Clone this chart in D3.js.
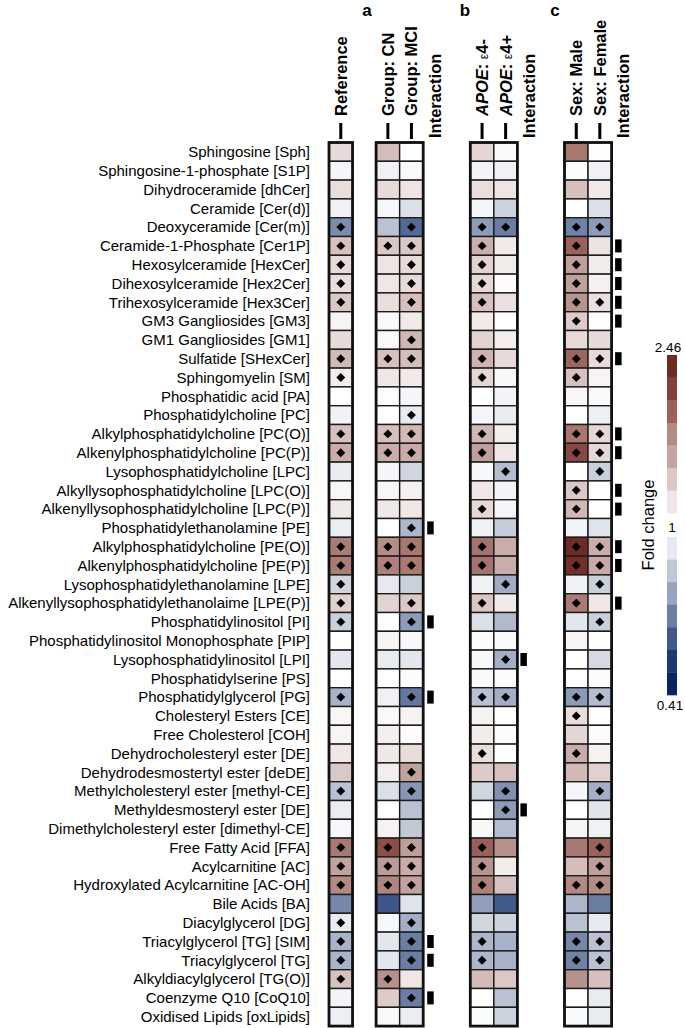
<!DOCTYPE html>
<html>
<head>
<meta charset="utf-8">
<script src="https://cdn.jsdelivr.net/npm/d3@7"></script>
<style>
  body { margin: 0; background: #fff; }
  text { font-family: "Liberation Sans", Arial, sans-serif; fill: #000; }
</style>
</head>
<body>
<div id="chart"></div>
<script>
// lipid classes, top to bottom
const lipids = [
  "Sphingosine [Sph]", "Sphingosine-1-phosphate [S1P]", "Dihydroceramide [dhCer]",
  "Ceramide [Cer(d)]", "Deoxyceramide [Cer(m)]", "Ceramide-1-Phosphate [Cer1P]",
  "Hexosylceramide [HexCer]", "Dihexosylceramide [Hex2Cer]", "Trihexosylceramide [Hex3Cer]",
  "GM3 Gangliosides [GM3]", "GM1 Gangliosides [GM1]", "Sulfatide [SHexCer]",
  "Sphingomyelin [SM]", "Phosphatidic acid [PA]", "Phosphatidylcholine [PC]",
  "Alkylphosphatidylcholine [PC(O)]", "Alkenylphosphatidylcholine [PC(P)]",
  "Lysophosphatidylcholine [LPC]", "Alkyllysophosphatidylcholine [LPC(O)]",
  "Alkenyllysophosphatidylcholine [LPC(P)]", "Phosphatidylethanolamine [PE]",
  "Alkylphosphatidylcholine [PE(O)]", "Alkenylphosphatidylcholine [PE(P)]",
  "Lysophosphatidylethanolamine [LPE]", "Alkenyllysophosphatidylethanolaime [LPE(P)]",
  "Phosphatidylinositol [PI]", "Phosphatidylinositol Monophosphate [PIP]",
  "Lysophosphatidylinositol [LPI]", "Phosphatidylserine [PS]", "Phosphatidylglycerol [PG]",
  "Cholesteryl Esters [CE]", "Free Cholesterol [COH]", "Dehydrocholesteryl ester [DE]",
  "Dehydrodesmostertyl ester [deDE]", "Methylcholesteryl ester [methyl-CE]",
  "Methyldesmosteryl ester [DE]", "Dimethylcholesteryl ester [dimethyl-CE]",
  "Free Fatty Acid [FFA]", "Acylcarnitine [AC]", "Hydroxylated Acylcarnitine [AC-OH]",
  "Bile Acids [BA]", "Diacylglycerol [DG]", "Triacylglycerol [TG] [SIM]",
  "Triacylglycerol [TG]", "Alkyldiacylglycerol [TG(O)]", "Coenzyme Q10 [CoQ10]",
  "Oxidised Lipids [oxLipids]"
];

// fold change per column
const refFC    = [1.20,0.95,1.18,0.92,0.63,1.33,1.20,1.18,1.30,1.06,1.20,1.37,1.10,1.00,0.93,1.33,1.43,0.89,1.05,1.13,0.90,1.75,1.75,0.82,1.25,0.80,1.00,0.87,1.00,0.72,1.04,1.06,1.14,1.30,0.76,0.90,0.96,1.77,1.50,1.68,0.62,0.89,0.72,0.72,1.33,0.94,0.91];
const cnFC     = [1.35,0.92,1.20,0.96,0.76,1.30,1.15,1.14,1.18,1.03,1.03,1.33,1.14,1.01,1.00,1.34,1.43,0.95,1.05,1.13,1.00,1.65,1.72,0.88,1.24,1.00,1.06,0.89,1.00,0.92,1.03,1.09,1.13,1.10,0.85,1.00,1.07,2.05,1.55,1.70,0.52,0.96,0.87,0.87,1.62,1.28,0.97];
const mciFC    = [1.00,0.97,1.15,0.85,0.56,1.30,1.20,1.20,1.34,1.12,1.38,1.35,1.12,0.95,0.89,1.37,1.44,0.82,1.08,1.13,0.73,1.78,1.76,0.80,1.29,0.66,0.96,0.87,0.98,0.59,1.07,1.02,1.19,1.50,0.65,0.76,0.78,1.53,1.44,1.50,0.86,0.71,0.60,0.60,1.14,0.60,0.90];
const e4negFC  = [1.22,0.94,1.18,0.95,0.66,1.42,1.24,1.21,1.34,1.12,1.24,1.40,1.22,1.00,0.95,1.38,1.52,0.96,1.14,1.21,0.92,1.80,1.80,0.92,1.30,0.85,1.02,0.96,0.97,0.76,1.07,1.11,1.18,1.28,0.82,1.00,1.04,1.92,1.60,1.72,0.67,0.82,0.73,0.73,1.36,1.00,0.98];
const e4posFC  = [1.03,0.92,1.15,0.81,0.60,1.12,1.11,1.02,1.17,1.00,1.10,1.20,1.04,0.94,0.89,1.10,1.14,0.75,0.94,0.95,0.79,1.43,1.43,0.70,1.12,0.74,0.97,0.71,1.02,0.71,1.00,0.98,1.00,1.33,0.64,0.66,0.75,1.62,1.11,1.33,0.53,0.81,0.72,0.72,1.30,0.76,0.81];
const maleFC   = [1.78,0.98,1.34,1.00,0.61,1.90,1.52,1.51,1.60,1.28,1.20,1.88,1.33,1.04,1.00,1.78,2.10,1.00,1.30,1.38,0.94,2.46,2.40,0.92,1.75,0.87,1.06,1.00,1.00,0.66,1.18,1.22,1.43,1.37,0.95,1.00,1.06,1.77,1.35,1.68,0.73,0.76,0.62,0.61,1.62,1.00,0.97];
const femaleFC = [1.01,0.92,1.12,0.85,0.66,1.16,1.11,1.08,1.17,1.01,1.20,1.20,1.06,0.97,0.91,1.21,1.21,0.80,1.00,1.00,0.86,1.43,1.46,0.80,1.14,0.80,1.00,0.83,0.98,0.75,1.00,1.02,1.07,1.25,0.71,0.86,0.92,1.90,1.53,1.66,0.60,0.88,0.76,0.76,1.34,0.89,0.89];

// rows marked with a diamond (significant)
const refSig    = [4,5,6,7,8,11,12,15,16,21,22,23,24,25,29,34,37,38,39,41,42,43,44];
const cnSig     = [5,11,15,16,21,22,37,38,39,44];
const mciSig    = [4,5,6,7,8,10,11,14,15,16,20,21,22,24,25,29,33,34,37,38,39,41,42,43,45];
const e4negSig  = [4,5,6,7,8,11,12,15,16,19,21,22,24,29,32,37,38,39,42,43];
const e4posSig  = [4,17,23,27,29,34,35];
const maleSig   = [4,5,6,7,8,9,11,12,15,16,18,19,21,22,24,29,30,32,39,42,43];
const femaleSig = [4,8,11,15,16,17,21,22,23,25,29,34,37,38,39,42,43];

// rows with a significant interaction term
const groupInteraction = [20,25,29,42,43,45];
const apoeInteraction  = [27,35];
const sexInteraction   = [5,6,7,8,9,11,15,16,18,19,21,22,24];

const foldMin = 0.41, foldMax = 2.46;
const redSteps  = ["#efe7e6","#dcc8c6","#c5a6a2","#b38a84","#9a625b","#84403a","#6e2b24"];
const blueSteps = ["#e6e9ef","#bfc6d5","#98a5c0","#6b7da3","#425a8b","#1c3a78","#0b2462"];

(function () {
  const width = 685, height = 1028;
  const svg = d3.select("#chart").append("svg")
    .attr("width", width).attr("height", height);

  // log fold change -> colour, white at 1
  const lo = Math.log(foldMin), hi = Math.log(foldMax);
  const stopDomain = [], stopRange = [];
  for (let k = 7; k >= 1; k--) { stopDomain.push(lo * k / 7); stopRange.push(blueSteps[k - 1]); }
  stopDomain.push(0); stopRange.push("#ffffff");
  for (let k = 1; k <= 7; k++) { stopDomain.push(hi * k / 7); stopRange.push(redSteps[k - 1]); }
  const color = d3.scaleLinear().domain(stopDomain).range(stopRange).clamp(true);
  const fill = (v) => color(Math.log(v));

  // slots across the page (gaps are unnamed)
  const slots = ["ref","g1","cn","mci","gint","g2","e4neg","e4pos","aint","g3","male","female","sint"];
  const x = d3.scaleBand().domain(slots).range([329, 329 + 13 * 23.55]).padding(0);
  const y = d3.scaleBand().domain(d3.range(lipids.length)).range([142.5, 1026.1]).padding(0);

  const columns = [
    { key: "ref", values: refFC, sig: refSig },
    { key: "cn", values: cnFC, sig: cnSig },
    { key: "mci", values: mciFC, sig: mciSig },
    { key: "e4neg", values: e4negFC, sig: e4negSig },
    { key: "e4pos", values: e4posFC, sig: e4posSig },
    { key: "male", values: maleFC, sig: maleSig },
    { key: "female", values: femaleFC, sig: femaleSig }
  ];
  const groups = [["ref"], ["cn","mci"], ["e4neg","e4pos"], ["male","female"]];

  // row labels
  svg.append("g").selectAll("text")
    .data(lipids)
    .join("text")
    .attr("x", 310)
    .attr("y", (d, i) => y(i) + y.bandwidth() / 2)
    .attr("dy", "0.35em")
    .attr("text-anchor", "end")
    .attr("font-size", "15px")
    .text(d => d);

  // cells
  const cellG = svg.append("g");
  columns.forEach(col => {
    cellG.selectAll(null)
      .data(col.values)
      .join("rect")
      .attr("x", x(col.key))
      .attr("y", (d, i) => y(i))
      .attr("width", x.bandwidth())
      .attr("height", y.bandwidth())
      .attr("fill", d => fill(d))
      .attr("stroke", "#1c1c1c")
      .attr("stroke-width", 1.4);
  });

  // outer frames
  groups.forEach(g => {
    svg.append("rect")
      .attr("x", x(g[0]))
      .attr("y", y(0))
      .attr("width", x.bandwidth() * g.length)
      .attr("height", y(lipids.length - 1) + y.bandwidth() - y(0))
      .attr("fill", "none")
      .attr("stroke", "#111")
      .attr("stroke-width", 2.8);
  });

  // diamonds
  const diamond = d3.symbol().type(d3.symbolSquare).size(40);
  columns.forEach(col => {
    svg.append("g").selectAll("path")
      .data(col.sig)
      .join("path")
      .attr("d", diamond)
      .attr("transform", i => `translate(${x(col.key) + x.bandwidth() / 2},${y(i) + y.bandwidth() / 2}) rotate(45)`)
      .attr("fill", "#000");
  });

  // interaction markers
  [["gint", groupInteraction, 4], ["aint", apoeInteraction, 3], ["sint", sexInteraction, 3.5]].forEach(([key, rows, off]) => {
    svg.append("g").selectAll("rect")
      .data(rows)
      .join("rect")
      .attr("x", x(key) + off)
      .attr("y", i => y(i) + y.bandwidth() / 2 - 6.5)
      .attr("width", 6.5)
      .attr("height", 13)
      .attr("fill", "#000");
  });

  // column headers
  const headers = [
    { key: "ref", parts: [["Reference"]], tick: true },
    { key: "cn", parts: [["Group: CN"]], tick: true },
    { key: "mci", parts: [["Group: MCI"]], tick: true },
    { key: "gint", parts: [["Interaction"]], tick: false, dx: 11.5 },
    { key: "e4neg", parts: [["APOE", "italic"], [": "], ["ε", "eps"], ["4-"]], tick: true },
    { key: "e4pos", parts: [["APOE", "italic"], [": "], ["ε", "eps"], ["4+"]], tick: true },
    { key: "aint", parts: [["Interaction"]], tick: false, dx: 11.5 },
    { key: "male", parts: [["Sex: Male"]], tick: true },
    { key: "female", parts: [["Sex: Female"]], tick: true },
    { key: "sint", parts: [["Interaction"]], tick: false, dx: 11.5 }
  ];
  headers.forEach(h => {
    const cx = h.tick ? x(h.key) + x.bandwidth() / 2 : x(h.key) + h.dx;
    const base = h.tick ? 116 : 138;
    const t = svg.append("text")
      .attr("transform", `translate(${cx},${base}) rotate(-90)`)
      .attr("dy", "0.36em")
      .attr("font-size", "16.5px")
      .attr("font-weight", "bold");
    h.parts.forEach(([s, style]) => {
      const sp = t.append("tspan").text(s);
      if (style === "italic") sp.attr("font-style", "italic");
      if (style === "eps") sp.attr("font-weight", "normal").attr("font-size", "12px");
    });
    if (h.tick) {
      svg.append("line")
        .attr("x1", cx).attr("x2", cx)
        .attr("y1", 123).attr("y2", 139)
        .attr("stroke", "#000").attr("stroke-width", 3);
    }
  });

  // panel letters
  [["a", 367], ["b", 465], ["c", 555]].forEach(([s, px]) => {
    svg.append("text")
      .attr("x", px).attr("y", 16)
      .attr("text-anchor", "middle")
      .attr("font-size", "17px")
      .attr("font-weight", "bold")
      .text(s);
  });

  // colour legend
  const legend = svg.append("g");
  const upper = d3.scaleBand().domain(d3.range(7)).range([513, 355]);
  const lower = d3.scaleBand().domain(d3.range(7)).range([537, 695]);
  legend.selectAll(".up")
    .data(d3.range(7))
    .join("rect")
    .attr("x", 667).attr("y", k => upper(k))
    .attr("width", 10).attr("height", upper.bandwidth() + 0.3)
    .attr("fill", k => color(hi * (k + 1) / 7));
  legend.selectAll(".down")
    .data(d3.range(7))
    .join("rect")
    .attr("x", 667).attr("y", k => lower(k))
    .attr("width", 10).attr("height", lower.bandwidth() + 0.3)
    .attr("fill", k => color(lo * (k + 1) / 7));
  legend.append("text").attr("x", 668).attr("y", 352)
    .attr("text-anchor", "middle").attr("font-size", "13.5px").text(foldMax.toFixed(2));
  legend.append("text").attr("x", 672).attr("y", 532)
    .attr("text-anchor", "middle").attr("font-size", "13.5px").text("1");
  legend.append("text").attr("x", 670).attr("y", 710)
    .attr("text-anchor", "middle").attr("font-size", "13.5px").text(foldMin.toFixed(2));
  legend.append("text")
    .attr("transform", "translate(648,525) rotate(-90)")
    .attr("text-anchor", "middle").attr("dy", "0.35em")
    .attr("font-size", "16.5px").text("Fold change");
})();
</script>
</body>
</html>
